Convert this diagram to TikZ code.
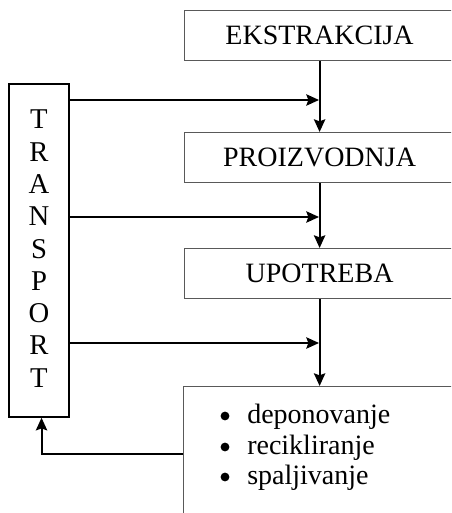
\documentclass[tikz,border=0pt]{standalone}
\usepackage{fontspec}
\setmainfont{Liberation Serif}
\usetikzlibrary{arrows.meta}
\begin{document}
\begin{tikzpicture}[x=0.75pt,y=-0.75pt,
  box/.style={draw=black!65, line width=0.9pt, rectangle, inner sep=0pt,
    minimum width=202.5pt, minimum height=37.5pt, anchor=north west,
    font=\fontsize{21}{24}\selectfont},
  arr/.style={line width=1.5pt, -{Stealth[length=9.5pt,width=8.5pt,inset=1.5pt]}},
  letter/.style={inner sep=0pt, anchor=base, font=\fontsize{21.5}{24}\selectfont},
  item/.style={inner sep=0pt, anchor=base west, font=\fontsize{21}{24}\selectfont},
  dot/.style={fill=black}]
\useasboundingbox (0,0) rectangle (451,513);
\clip (0,0) rectangle (451,513);
% main boxes
\node[box] (ek) at (184,10) {EKSTRAKCIJA};
\node[box] (pr) at (184,132) {PROIZVODNJA};
\node[box] (up) at (184,248) {UPOTREBA};
\node[box, minimum height=105pt] (dp) at (183,386) {};
% transport box
\node[draw=black, line width=1.3pt, rectangle, inner sep=0pt,
  minimum width=45pt, minimum height=249.75pt, anchor=north west] (tr) at (8,83) {};
\foreach \ch [count=\i from 0] in {T,R,A,N,S,P,O,R,T}
  \node[letter] (l\i) at (39,129+32.25*\i) {\ch};
% list
\node[item] (i1) at (247,423) {deponovanje};
\node[item] (i2) at (247,454) {recikliranje};
\node[item] (i3) at (247,484) {spaljivanje};
\fill[dot] (225,416) circle (3.3pt);
\fill[dot] (225,447) circle (3.3pt);
\fill[dot] (225,477) circle (3.3pt);
% junctions
\coordinate (j1) at (319,100);
\coordinate (j2) at (319,217);
\coordinate (j3) at (319,343);
\coordinate (r) at (183,454);
% vertical flow
\draw[arr] (ek.south) -- (pr.north);
\draw[arr] (pr.south) -- (up.north);
\draw[arr] (up.south) -- (up.south |- dp.north);
% transport arrows
\draw[arr] (tr.east |- j1) -- (j1);
\draw[arr] (tr.east |- j2) -- (j2);
\draw[arr] (tr.east |- j3) -- (j3);
% return
\draw[arr] (r) -| ([xshift=2pt]tr.south);
\end{tikzpicture}
\end{document}
